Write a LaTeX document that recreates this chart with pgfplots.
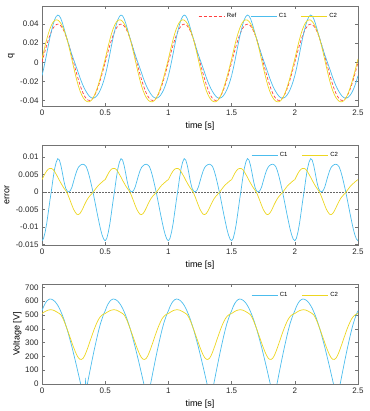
\documentclass[border=0pt]{standalone}
\usepackage{fontspec}
\setmainfont{Liberation Sans}
\usepackage{pgfplots}
\usepackage{pgfplotstable}
\pgfplotsset{compat=1.18}
\definecolor{cblue}{rgb}{0.30,0.74,0.93}
\definecolor{cyel}{rgb}{0.93,0.84,0.13}
\definecolor{cred}{rgb}{1,0.25,0.25}

% one period (0.5 s) of each signal
\pgfplotstableread{
t ref c1 c2 e1 e2
0 0 -0.0140 0.0035 -0.0140 0.0035
0.0125 0.00626 -0.00704 0.01066 -0.0133 0.0044
0.025 0.01236 0.00086 0.01766 -0.0115 0.0053
0.0375 0.01816 0.00916 0.02416 -0.0090 0.0060
0.05 0.02351 0.01771 0.03001 -0.0058 0.0065
0.0625 0.02828 0.02578 0.03498 -0.0025 0.0067
0.075 0.03236 0.03286 0.03906 0.0005 0.0067
0.0875 0.03564 0.03944 0.04204 0.0038 0.0064
0.1 0.03804 0.04464 0.04384 0.0066 0.0058
0.1125 0.03951 0.04801 0.04451 0.0085 0.0050
0.125 0.04 0.0495 0.0442 0.0095 0.0042
0.1375 0.03951 0.04861 0.04281 0.0091 0.0033
0.15 0.03804 0.04554 0.04054 0.0075 0.0025
0.1625 0.03564 0.04084 0.03734 0.0052 0.0017
0.175 0.03236 0.03516 0.03336 0.0028 0.0010
0.1875 0.02828 0.02928 0.02868 0.0010 0.0004
0.2 0.02351 0.02371 0.02311 0.0002 -0.0004
0.2125 0.01816 0.01816 0.01666 0.0000 -0.0015
0.225 0.01236 0.01276 0.00966 0.0004 -0.0027
0.2375 0.00626 0.00766 0.00236 0.0014 -0.0039
0.25 0 0.0030 -0.0050 0.0030 -0.0050
0.2625 -0.00626 -0.00166 -0.01206 0.0046 -0.0058
0.275 -0.01236 -0.00636 -0.01876 0.0060 -0.0064
0.2875 -0.01816 -0.01116 -0.02466 0.0070 -0.0065
0.3 -0.02351 -0.01601 -0.02971 0.0075 -0.0062
0.3125 -0.02828 -0.02048 -0.03378 0.0078 -0.0055
0.325 -0.03236 -0.02446 -0.03696 0.0079 -0.0046
0.3375 -0.03564 -0.02794 -0.03924 0.0077 -0.0036
0.35 -0.03804 -0.03084 -0.04074 0.0072 -0.0027
0.3625 -0.03951 -0.03351 -0.04141 0.0060 -0.0019
0.375 -0.04 -0.0356 -0.0413 0.0044 -0.0013
0.3875 -0.03951 -0.03701 -0.04031 0.0025 -0.0008
0.4 -0.03804 -0.03754 -0.03834 0.0005 -0.0003
0.4125 -0.03564 -0.03734 -0.03534 -0.0017 0.0003
0.425 -0.03236 -0.03636 -0.03146 -0.0040 0.0009
0.4375 -0.02828 -0.03458 -0.02678 -0.0063 0.0015
0.45 -0.02351 -0.03201 -0.02151 -0.0085 0.0020
0.4625 -0.01816 -0.02876 -0.01576 -0.0106 0.0024
0.475 -0.01236 -0.02466 -0.00956 -0.0123 0.0028
0.4875 -0.00626 -0.01976 -0.00306 -0.0135 0.0032
0.5 0 -0.0140 0.0035 -0.0140 0.0035
}\qtab

\pgfplotstableread{
t v1 v2
0 530 510
0.0125 560 518
0.025 583 525
0.0375 600 531
0.05 610 535
0.0625 615 537
0.075 614 537
0.0875 608 535
0.1 599 530
0.1125 586 524
0.125 569 517
0.1375 548 510
0.15 523 500
0.1625 495 480
0.175 464 455
0.1875 429 425
0.2 392 395
0.2125 352 362
0.225 309 330
0.2375 266 297
0.25 219 265
0.2625 172 236
0.275 124 210
0.2875 74 190
0.3 24 179
0.3125 -26 178
0.325 -72 186
0.3375 -90 205
0.35 -42 232
0.3625 16 263
0.375 75 296
0.3875 133 330
0.4 189 363
0.4125 244 395
0.425 296 424
0.4375 347 450
0.45 394 472
0.4625 437 488
0.475 472 499
0.4875 505 506
0.5 530 510
}\vtab

\pgfplotsset{
  mystyle/.style={
    scale only axis, width=316pt, height=100pt,
    xmin=0, xmax=2.5, xtick={0,0.5,1,1.5,2,2.5},
    tick align=inside, xtick pos=both, ytick pos=both,
    major tick length=3pt,
    axis line style={black!55}, every tick/.style={black!55},
    tick label style={font=\fontsize{8}{9}\selectfont, black!85},
    label style={font=\fontsize{9}{10}\selectfont},
    /pgf/number format/assume math mode=true,
    scaled y ticks=false,
    yticklabel style={/pgf/number format/fixed, /pgf/number format/precision=3},
    xlabel={time [s]},
    xlabel style={at={(axis description cs:0.5,-0.2)}, anchor=center},
    legend style={draw=none, fill=none, font=\fontsize{6}{7}\selectfont,
      legend columns=-1, anchor=north east,
      /tikz/every even column/.append style={column sep=12pt}},
    legend image code/.code={\draw[#1] (0pt,0pt) -- (26pt,0pt);},
    legend cell align=left,
  }
}

\begin{document}
\begin{tikzpicture}
\path[use as bounding box] (0,0) rectangle (369pt,411pt);

% ---------- panel 1 ----------
\begin{axis}[mystyle, at={(42pt,305pt)}, anchor=south west,
  ymin=-0.0458, ymax=0.059, ytick={-0.04,-0.02,0,0.02,0.04},
  ylabel={q}, ylabel style={at={(axis description cs:-0.097,0.5)}, anchor=center},
  legend style={at={(axis description cs:0.95,0.97)}}]
\addlegendimage{cred, line width=0.7pt, dash pattern=on 3pt off 2pt}\addlegendentry{Ref}
\addlegendimage{cblue, line width=0.7pt}\addlegendentry{C1}
\addlegendimage{cyel, line width=0.7pt}\addlegendentry{C2}
\pgfplotsinvokeforeach{0,0.5,1,1.5,2}{
  \addplot[cred, line width=0.7pt, dash pattern=on 3pt off 2pt, forget plot] table[x expr=\thisrow{t}+#1, y=ref]{\qtab};
}
\pgfplotsinvokeforeach{0,0.5,1,1.5,2}{
  \addplot[cblue, line width=0.7pt, forget plot] table[x expr=\thisrow{t}+#1, y=c1]{\qtab};
}
\pgfplotsinvokeforeach{0,0.5,1,1.5,2}{
  \addplot[cyel, line width=0.7pt, forget plot] table[x expr=\thisrow{t}+#1, y=c2]{\qtab};
}
\end{axis}

% ---------- panel 2 ----------
\begin{axis}[mystyle, at={(42pt,166pt)}, anchor=south west,
  ymin=-0.0152, ymax=0.0134, ytick={-0.015,-0.01,-0.005,0,0.005,0.01},
  ylabel={error}, ylabel style={at={(axis description cs:-0.111,0.5)}, anchor=center},
  legend style={at={(axis description cs:0.953,0.97)}}]
\addlegendimage{cblue, line width=0.7pt}\addlegendentry{C1}
\addlegendimage{cyel, line width=0.7pt}\addlegendentry{C2}
\addplot[black!60, line width=0.35pt, dash pattern=on 1.5pt off 1.5pt, forget plot] coordinates {(0,0) (2.5,0)};
\pgfplotsinvokeforeach{0,0.5,1,1.5,2}{
  \addplot[cblue, line width=0.7pt, forget plot] table[x expr=\thisrow{t}+#1, y=e1]{\qtab};
}
\pgfplotsinvokeforeach{0,0.5,1,1.5,2}{
  \addplot[cyel, line width=0.7pt, forget plot] table[x expr=\thisrow{t}+#1, y=e2]{\qtab};
}
\end{axis}

% ---------- panel 3 ----------
\begin{axis}[mystyle, at={(42pt,27pt)}, anchor=south west,
  ymin=0, ymax=724, ytick={0,100,...,700},
  ylabel={Voltage [V]}, ylabel style={at={(axis description cs:-0.078,0.5)}, anchor=center},
  legend style={at={(axis description cs:0.953,0.96)}}]
\addlegendimage{cblue, line width=0.7pt}\addlegendentry{C1}
\addlegendimage{cyel, line width=0.7pt}\addlegendentry{C2}
\pgfplotsinvokeforeach{0,0.5,1,1.5,2}{
  \addplot[cblue, line width=0.7pt, forget plot] table[x expr=\thisrow{t}+#1, y=v1]{\vtab};
}
\addplot[cblue, line width=0.6pt, forget plot] coordinates {(0.343,-40) (0.345,45) (0.347,-40)};
\pgfplotsinvokeforeach{0,0.5,1,1.5,2}{
  \addplot[cyel, line width=0.7pt, forget plot] table[x expr=\thisrow{t}+#1, y=v2]{\vtab};
}
\end{axis}
\end{tikzpicture}
\end{document}
